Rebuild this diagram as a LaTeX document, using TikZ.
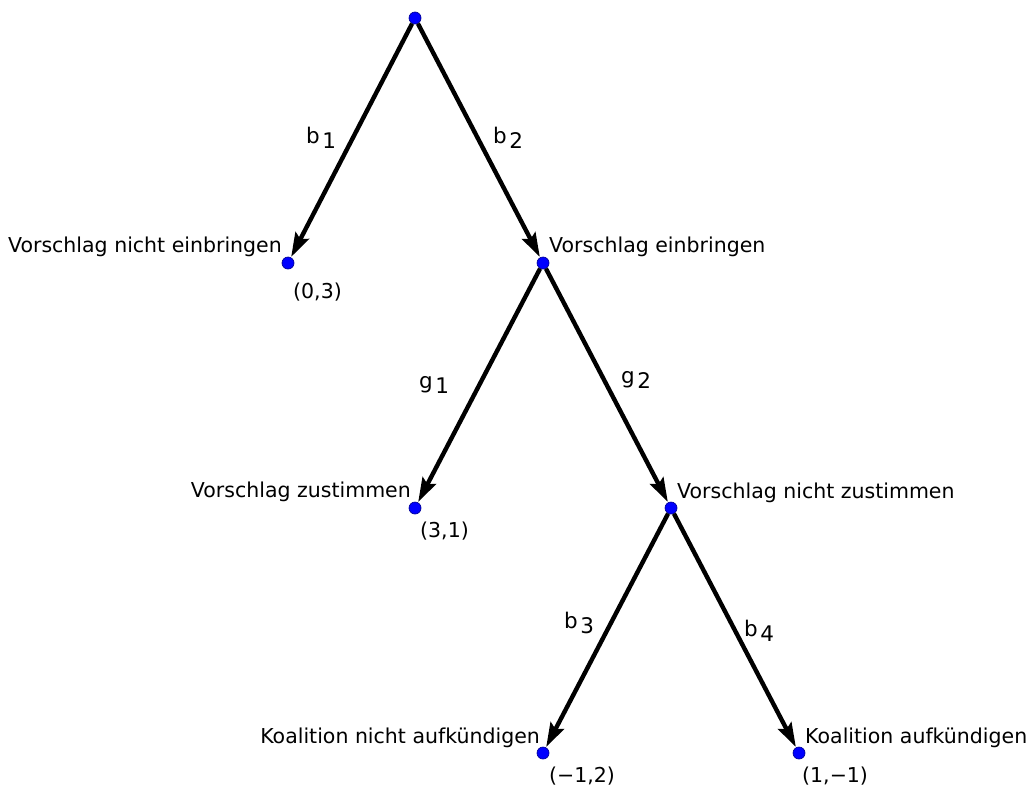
\documentclass[tikz,border=0pt]{standalone}
\usepackage{fontspec}
\setmainfont{DejaVu Sans}
\usetikzlibrary{arrows.meta}
\newcommand{\lbl}[2]{#1\raisebox{-0.5ex}{\kern0.12em #2}}
\begin{document}
\begin{tikzpicture}[x=1pt,y=-1pt,
  vtx/.style={circle,fill=blue,draw=blue!60!black,line width=0.7pt,inner sep=0pt,minimum size=12pt},
  edge/.style={line width=4.4pt,-{Stealth[length=24pt,width=15pt,inset=4pt]},shorten >=0.5pt},
  txt/.style={font=\fontsize{20.5}{24}\selectfont,inner sep=0pt},
  elab/.style={font=\fontsize{21.5}{24}\selectfont,inner sep=0pt,anchor=base west}]
\useasboundingbox (0,0) rectangle (1030,785);
\node[vtx] (r) at (415,18) {};
\node[vtx] (a) at (288,263) {};
\node[vtx] (b) at (543,263) {};
\node[vtx] (c) at (415,508) {};
\node[vtx] (d) at (671,508) {};
\node[vtx] (e) at (543,753) {};
\node[vtx] (f) at (799,753) {};
\draw[edge] (r) -- (a);
\draw[edge] (r) -- (b);
\draw[edge] (b) -- (c);
\draw[edge] (b) -- (d);
\draw[edge] (d) -- (e);
\draw[edge] (d) -- (f);
\node[elab] (lb1) at (306,143) {\lbl{b}{1}};
\node[elab] (lb2) at (493,143) {\lbl{b}{2}};
\node[elab] (lg1) at (419,388) {\lbl{g}{1}};
\node[elab] (lg2) at (621,383) {\lbl{g}{2}};
\node[elab] (lb3) at (564,628) {\lbl{b}{3}};
\node[elab] (lb4) at (744,636) {\lbl{b}{4}};
\node[txt,anchor=base east] (ta) at (282,252) {Vorschlag nicht einbringen};
\node[txt,anchor=base west] (pa) at (293,298) {(0,3)};
\node[txt,anchor=base west] (tb) at (549,252) {Vorschlag einbringen};
\node[txt,anchor=base east] (tc) at (411,497) {Vorschlag zustimmen};
\node[txt,anchor=base west] (pc) at (420,537) {(3,1)};
\node[txt,anchor=base west] (td) at (677,498) {Vorschlag nicht zustimmen};
\node[txt,anchor=base east] (te) at (540,743) {Koalition nicht aufkündigen};
\node[txt,anchor=base west] (pe) at (549,782) {(−1,2)};
\node[txt,anchor=base west] (tf) at (805,743) {Koalition aufkündigen};
\node[txt,anchor=base west] (pf) at (802,782) {(1,−1)};
\end{tikzpicture}
\end{document}
